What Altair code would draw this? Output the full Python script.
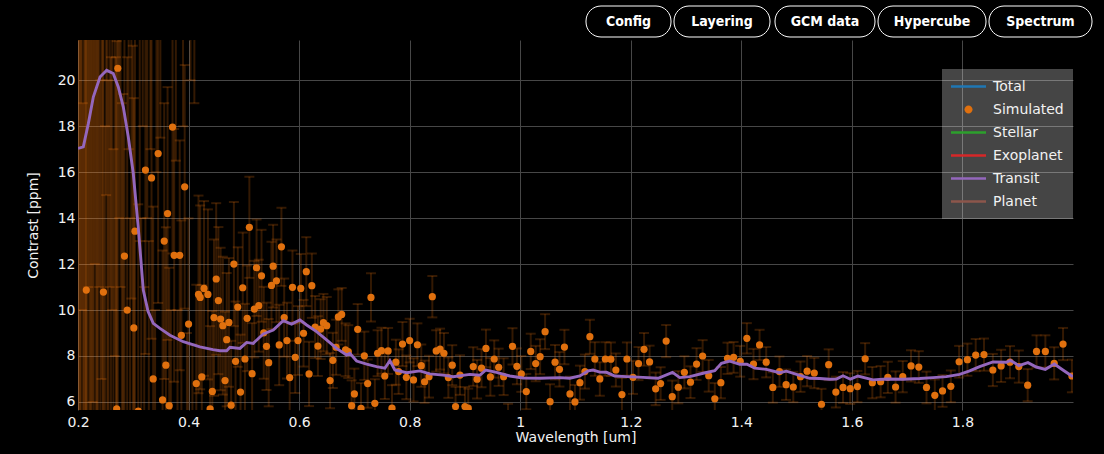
import altair as alt
import pandas as pd

# ---------------- data ----------------
X_TICKS = [0.2, 0.4, 0.6, 0.8, 1.0, 1.2, 1.4, 1.6, 1.8]
Y_TICKS = [6, 8, 10, 12, 14, 16, 18, 20]
SERIES = ["Total", "Simulated", "Stellar", "Exoplanet", "Transit", "Planet"]
SERIES_COLORS = ["#1f77b4", "#e0700e", "#2ca02c", "#d62728", "#9467bd", "#8c564b"]
BUTTONS = ["Config", "Layering", "GCM data", "Hypercube", "Spectrum"]

TRANSIT_WL = [0.200, 0.2096, 0.2186, 0.2277, 0.2398, 0.2519, 0.2638, 0.2729, 0.2819, 0.2910,
              0.3000, 0.3090, 0.3181, 0.3266, 0.3362, 0.3483, 0.3664, 0.3904, 0.4206, 0.4441,
              0.4568, 0.4689, 0.4749, 0.4929, 0.5051, 0.5170, 0.5351, 0.5532, 0.5712, 0.5864,
              0.6014, 0.6136, 0.6316, 0.6497, 0.6678, 0.6859, 0.6919, 0.7040, 0.7221, 0.7401,
              0.7552, 0.7642, 0.7732, 0.7944, 0.8184, 0.8365, 0.8606, 0.8787, 0.9089, 0.9269,
              0.9378, 0.9571, 0.9812, 1.0052, 1.0354, 1.0716, 1.0897, 1.1078, 1.1228, 1.1318,
              1.1439, 1.1561, 1.1711, 1.1922, 1.2222, 1.2494, 1.2754, 1.2886, 1.3067, 1.3308,
              1.3519, 1.3640, 1.3790, 1.3971, 1.4103, 1.4243, 1.4454, 1.4694, 1.4816, 1.5056,
              1.5237, 1.5418, 1.5599, 1.5720, 1.5839, 1.5973, 1.6110, 1.6382, 1.6624, 1.6924,
              1.7226, 1.7467, 1.7709, 1.7949, 1.8130, 1.8311, 1.8552, 1.8794, 1.8866, 1.9022,
              1.9185, 1.9336, 1.9499, 1.9662, 1.9817, 1.9998]
TRANSIT_PPM = [17.03, 17.10, 18.10, 19.27, 20.14, 20.43, 20.29, 19.71, 18.84, 17.53,
               15.94, 13.60, 10.87, 9.95, 9.42, 9.20, 8.90, 8.62, 8.40, 8.28,
               8.23, 8.23, 8.38, 8.33, 8.59, 8.55, 8.96, 9.13, 9.54, 9.39,
               9.57, 9.35, 9.06, 8.70, 8.33, 8.04, 8.12, 7.78, 7.65, 7.54,
               7.47, 7.80, 7.39, 7.27, 7.35, 7.22, 7.17, 7.10, 7.20, 7.16,
               7.39, 7.29, 7.13, 7.04, 7.03, 7.06, 7.03, 7.13, 7.35, 7.39,
               7.30, 7.29, 7.13, 7.10, 7.07, 7.03, 7.29, 7.06, 7.10, 7.25,
               7.36, 7.68, 7.78, 7.64, 7.64, 7.47, 7.42, 7.27, 7.34, 7.16,
               7.03, 7.02, 6.99, 7.00, 7.14, 6.99, 7.13, 6.96, 7.00, 6.99,
               7.02, 7.06, 7.10, 7.20, 7.35, 7.54, 7.74, 7.73, 7.81, 7.58,
               7.71, 7.52, 7.42, 7.65, 7.39, 7.10]

# simulated points (wavelength, contrast, 1-sigma error); these lie outside the view
SIM_BAND = [(0.2000, 34, 30), (0.2017, -6, 30), (0.2035, 27, 25), (0.2052, 1, 24), (0.2070, 40, 30),
            (0.2088, -9, 28), (0.2106, 24, 22), (0.2124, 3, 25), (0.2142, 31, 27), (0.2170, -2, 26),
            (0.2188, 36, 25), (0.2207, 0, 27), (0.2226, 26, 22), (0.2245, -8, 30), (0.2264, 30, 24),
            (0.2284, 4, 22), (0.2303, 38, 26), (0.2323, -3, 27), (0.2343, 25, 20), (0.2363, 2, 24),
            (0.2384, 33, 22), (0.2404, -5, 25), (0.2425, 28, 21), (0.2446, 5, 21), (0.2488, -4, 22),
            (0.2509, 35, 20), (0.2531, 22.5, 18), (0.2552, 0, 20), (0.2574, 30, 19), (0.2596, 3, 18),
            (0.2619, 27, 17), (0.2641, -2, 19), (0.2664, 24, 16), (0.2687, 4, 17), (0.2746, 29, 15),
            (0.2770, 27, 16), (0.2794, 4.5, 14.5), (0.2818, 5, 14.4), (0.2916, 30, 13), (0.2941, 2, 12),
            (0.2966, 22.5, 12), (0.2992, -1, 22.5), (0.3117, 24, 11), (0.3144, 3, 11), (0.3171, 28, 10),
            (0.3198, 1, 10), (0.3253, 23, 9), (0.3281, 4, 9), (0.3309, 26, 9), (0.3395, 2, 8),
            (0.3420, 24, 8), (0.3490, 25, 7.5), (0.3680, 3, 7), (0.3770, 23, 6.5), (0.3800, 4, 6),
            (0.3900, 24, 6), (0.3970, 3.5, 5.5), (0.4035, 25, 5), (0.4070, 4, 4.5), (0.4105, 23.5, 4.5)]

SIM_BLUE = [(0.215, 10.87, 22), (0.246, 10.78, 18), (0.270, 5.70, 16), (0.272, 20.52, 15), (0.284, 12.35, 12),
            (0.289, 10.00, 11), (0.301, 9.22, 10), (0.303, 13.43, 9), (0.309, 5.60, 9), (0.322, 16.09, 8),
            (0.333, 15.75, 7), (0.336, 7.00, 7.5), (0.345, 16.81, 6.5), (0.353, 6.09, 6.5), (0.356, 13.00, 6),
            (0.359, 7.60, 6), (0.362, 14.20, 5.5), (0.365, 5.84, 6), (0.371, 17.96, 5.5), (0.374, 12.38, 5.5),
            (0.384, 12.38, 5), (0.387, 8.90, 5), (0.393, 15.36, 5.3), (0.400, 9.39, 4.6), (0.414, 6.80, 4.3),
            (0.418, 10.68, 4.3), (0.421, 10.55, 4.0), (0.424, 7.09, 4.0), (0.428, 10.94, 3.8), (0.435, 10.68, 3.7),
            (0.439, 5.70, 3.6), (0.443, 6.46, 3.5), (0.446, 9.67, 3.4), (0.450, 11.35, 3.3), (0.454, 10.41, 3.2),
            (0.458, 9.61, 3.1), (0.462, 9.32, 3.0), (0.466, 6.93, 3.0), (0.469, 8.71, 2.9), (0.473, 9.46, 2.8),
            (0.477, 5.86, 2.8), (0.482, 12.00, 2.7), (0.485, 7.77, 2.6), (0.489, 10.13, 2.6), (0.494, 6.43, 2.5),
            (0.498, 10.97, 2.4), (0.502, 7.87, 2.4), (0.506, 9.64, 2.3), (0.510, 13.60, 2.2), (0.515, 7.23, 2.2),
            (0.519, 10.04, 2.1), (0.523, 11.84, 2.1), (0.527, 10.19, 2.0), (0.532, 11.49, 2.0), (0.536, 9.01, 2.0),
            (0.541, 8.42, 1.9), (0.545, 7.71, 1.9), (0.550, 11.07, 1.9)]

SIM_VIS = [(0.553, 11.91, 1.8), (0.559, 11.27, 1.8), (0.564, 8.48, 1.75), (0.568, 12.75, 1.7), (0.573, 9.67, 1.7),
           (0.578, 8.67, 1.65), (0.583, 7.06, 1.6), (0.588, 10.99, 1.6), (0.593, 7.94, 1.55), (0.598, 8.67, 1.5),
           (0.603, 10.94, 1.5), (0.608, 8.99, 1.45), (0.613, 11.67, 1.5), (0.618, 7.22, 1.4), (0.623, 11.06, 1.4),
           (0.629, 9.26, 1.35), (0.634, 8.43, 1.3), (0.639, 9.17, 1.3), (0.644, 9.45, 1.25), (0.650, 9.32, 1.25),
           (0.656, 6.93, 1.2), (0.661, 7.81, 1.2), (0.667, 8.38, 1.2), (0.671, 9.70, 1.2), (0.677, 9.81, 1.15),
           (0.684, 8.27, 1.15), (0.689, 8.19, 1.15), (0.695, 5.84, 1.1), (0.700, 6.35, 1.1), (0.706, 9.16, 1.1),
           (0.712, 5.72, 1.1), (0.718, 8.01, 1.05), (0.724, 6.80, 1.05), (0.730, 10.55, 1.05), (0.737, 5.94, 1.05),
           (0.742, 8.12, 1.0), (0.749, 8.23, 1.0), (0.755, 7.13, 1.0), (0.761, 8.22, 1.0), (0.768, 5.73, 1.0),
           (0.775, 7.73, 0.98), (0.780, 7.32, 0.97), (0.787, 8.52, 0.96), (0.794, 7.07, 0.95), (0.800, 8.67, 0.95),
           (0.807, 6.96, 0.94), (0.814, 8.49, 0.93), (0.821, 7.58, 0.92), (0.827, 6.88, 0.92), (0.835, 7.10, 0.91),
           (0.841, 10.58, 0.9), (0.848, 8.22, 0.9), (0.855, 8.30, 0.89), (0.862, 8.12, 0.88), (0.870, 7.06, 0.88),
           (0.877, 7.60, 0.87), (0.883, 5.80, 0.86), (0.891, 7.17, 0.86), (0.900, 5.80, 0.85), (0.906, 5.73, 0.85),
           (0.915, 7.54, 0.84), (0.922, 6.99, 0.84), (0.930, 7.47, 0.83), (0.938, 8.33, 0.82), (0.946, 7.09, 0.82),
           (0.953, 7.87, 0.81), (0.961, 7.51, 0.81), (0.970, 7.10, 0.80), (0.978, 5.13, 0.79), (0.986, 8.42, 0.79),
           (0.994, 7.55, 0.78)]

SIM_NIR1 = [(1.002, 7.22, 0.78), (1.011, 6.45, 0.77), (1.019, 8.20, 0.77), (1.028, 7.67, 0.77), (1.036, 7.97, 0.76),
            (1.045, 9.06, 0.76), (1.054, 6.01, 0.76), (1.063, 7.73, 0.75), (1.071, 7.42, 0.75), (1.080, 8.39, 0.75),
            (1.090, 6.35, 0.75), (1.099, 6.00, 0.74), (1.108, 6.84, 0.74), (1.117, 7.32, 0.74), (1.126, 8.84, 0.74),
            (1.135, 7.87, 0.73), (1.144, 7.00, 0.73), (1.154, 7.87, 0.73), (1.164, 7.86, 0.73), (1.173, 7.39, 0.72),
            (1.184, 6.32, 0.72), (1.193, 7.87, 0.72), (1.204, 7.07, 0.72), (1.214, 7.67, 0.72), (1.224, 8.29, 0.71),
            (1.234, 7.74, 0.71), (1.245, 6.57, 0.71), (1.254, 6.80, 0.71), (1.264, 8.65, 0.70), (1.275, 6.23, 0.70),
            (1.286, 6.64, 0.70), (1.297, 7.29, 0.70), (1.308, 6.86, 0.69), (1.319, 7.65, 0.69), (1.330, 8.00, 0.69),
            (1.341, 7.14, 0.69), (1.352, 6.14, 0.68), (1.363, 6.84, 0.68), (1.375, 7.90, 0.68), (1.386, 7.94, 0.67),
            (1.398, 7.77, 0.67), (1.410, 8.77, 0.66), (1.422, 7.65, 0.66), (1.433, 8.48, 0.66), (1.445, 7.73, 0.66),
            (1.457, 6.63, 0.66), (1.469, 7.32, 0.66), (1.481, 6.75, 0.66), (1.494, 6.65, 0.66)]

SIM_NIR2 = [(1.507, 7.10, 0.66), (1.519, 7.34, 0.66), (1.532, 7.26, 0.66), (1.545, 5.90, 0.67), (1.558, 7.62, 0.67),
            (1.571, 6.43, 0.67), (1.584, 6.63, 0.67), (1.597, 6.58, 0.67), (1.610, 6.67, 0.68), (1.624, 7.88, 0.68),
            (1.637, 6.84, 0.68), (1.652, 6.88, 0.68), (1.665, 7.07, 0.68), (1.679, 6.65, 0.68), (1.692, 7.10, 0.68),
            (1.707, 7.57, 0.68), (1.721, 7.52, 0.69), (1.735, 6.63, 0.69), (1.750, 6.29, 0.69), (1.764, 6.48, 0.69),
            (1.779, 6.68, 0.69), (1.794, 7.75, 0.69), (1.809, 7.84, 0.70), (1.824, 8.04, 0.70), (1.839, 8.06, 0.70),
            (1.855, 7.39, 0.70), (1.870, 7.57, 0.70), (1.886, 7.73, 0.70), (1.902, 7.54, 0.70), (1.918, 6.73, 0.70),
            (1.934, 8.20, 0.70), (1.950, 8.20, 0.70), (1.966, 7.68, 0.70), (1.982, 8.52, 0.70), (1.998, 7.13, 0.71)]

# ---------------- tables ----------------
sim = pd.DataFrame(SIM_BAND + SIM_BLUE + SIM_VIS + SIM_NIR1 + SIM_NIR2, columns=["wl", "ppm", "err"])
sim["lo"] = sim["ppm"] - sim["err"]
sim["hi"] = sim["ppm"] + sim["err"]

transit = pd.DataFrame({"wl": TRANSIT_WL, "ppm": TRANSIT_PPM})

# one (off-view) row per trace, only to build the legend
legend_rows = pd.DataFrame({"series": SERIES, "wl": -1.0, "ppm": -100.0})

# ---------------- styling ----------------
FONT = "DejaVu Sans"
BTN_FONT = "DejaVu Sans Condensed, Roboto, sans-serif"
TXT = "#f2f2f2"
GRID = "#474747"
ORANGE = "#ff7f0e"
BAR_OPACITY = 0.2
LINE_PATH = "M-1,-0.075H1V0.075H-1Z"
DOT_PATH = "M0.23,0A0.23,0.23,0,1,1,-0.23,0A0.23,0.23,0,1,1,0.23,0Z"
SHAPES = [DOT_PATH if s == "Simulated" else LINE_PATH for s in SERIES]

xscale = alt.Scale(domain=[0.2, 2.0], nice=False, zero=False)
yscale = alt.Scale(domain=[5.65, 21.75], nice=False, zero=False)

xaxis = alt.Axis(values=X_TICKS, format="~g", title="Wavelength [um]", grid=True, gridColor=GRID,
                 gridWidth=1, domain=False, ticks=False, labelFlush=False, labelColor=TXT,
                 labelFont=FONT, labelFontSize=14, labelPadding=5, titleColor=TXT, titleFont=FONT,
                 titleFontSize=14, titleFontWeight="normal", titlePadding=1)
yaxis = alt.Axis(values=Y_TICKS, title="Contrast [ppm]", grid=True, gridColor=GRID, gridWidth=1,
                 domain=False, ticks=False, labelFlush=False, labelColor=TXT, labelFont=FONT,
                 labelFontSize=14, labelPadding=3, titleColor=TXT, titleFont=FONT, titleFontSize=14,
                 titleFontWeight="normal", titlePadding=17)

legend = alt.Legend(
    title=None, orient="none", legendX=864, legendY=29,
    fillColor="rgba(255,255,255,0.27)", padding=9, cornerRadius=0,
    labelColor=TXT, labelFont=FONT, labelFontSize=14, labelOffset=7,
    symbolSize=1225, symbolStrokeWidth=0, symbolOpacity=1, clipHeight=17, rowPadding=6,
)

X = alt.X("wl:Q", scale=xscale, axis=xaxis)

base = alt.Chart(sim)
bars = base.mark_rule(color=ORANGE, opacity=BAR_OPACITY, strokeWidth=2, clip=True).encode(
    x=X, y=alt.Y("lo:Q", scale=yscale, axis=yaxis), y2="hi:Q",
)
caps_hi = base.mark_tick(color=ORANGE, opacity=BAR_OPACITY, orient="horizontal", size=10, thickness=2,
                         clip=True).encode(x=X, y=alt.Y("hi:Q", scale=yscale, axis=yaxis))
caps_lo = base.mark_tick(color=ORANGE, opacity=BAR_OPACITY, orient="horizontal", size=10, thickness=2,
                         clip=True).encode(x=X, y=alt.Y("lo:Q", scale=yscale, axis=yaxis))
points = base.mark_circle(size=52, opacity=1, color=SERIES_COLORS[1], clip=True).encode(
    x=X, y=alt.Y("ppm:Q", scale=yscale, axis=yaxis),
)
line = alt.Chart(transit).mark_line(strokeWidth=2.9, color=SERIES_COLORS[4], clip=True).encode(
    x=X, y=alt.Y("ppm:Q", scale=yscale, axis=yaxis),
)
legend_layer = alt.Chart(legend_rows).mark_point(filled=True, size=1225, clip=True).encode(
    x=X, y=alt.Y("ppm:Q", scale=yscale, axis=yaxis),
    color=alt.Color("series:N", scale=alt.Scale(domain=SERIES, range=SERIES_COLORS), legend=legend),
    shape=alt.Shape("series:N", scale=alt.Scale(domain=SERIES, range=SHAPES), legend=legend),
)

# menu buttons above the plot (pixel layout, relative to the plot origin)
BTN_LEFT = [508, 596, 697, 800, 911]
BTN_RIGHT = [593, 692, 797, 908, 1014]
buttons = []
for lbl, x0, x1 in zip(BUTTONS, BTN_LEFT, BTN_RIGHT):
    one = alt.Chart(pd.DataFrame({"label": [lbl]}))
    buttons.append(one.mark_rect(cornerRadius=15, fill="black", stroke="white", strokeWidth=1).encode(
        x=alt.value(x0), x2=alt.value(x1), y=alt.value(-34), y2=alt.value(-3)))
    buttons.append(one.mark_text(font=BTN_FONT, fontWeight="bold", fontSize=14,
                                 color="white", align="center", baseline="middle").encode(
        x=alt.value((x0 + x1) / 2), y=alt.value(-18.5), text="label:N"))

chart = alt.layer(bars, caps_hi, caps_lo, points, line, legend_layer, *buttons).properties(
    width=995, height=370,
    padding={"left": 78, "top": 40, "right": 31, "bottom": 44},
    autosize=alt.AutoSizeParams(type="none"),
    background="black",
).configure_view(strokeWidth=0)

chart.save("out.html", embed_options={"renderer": "svg", "actions": False})
